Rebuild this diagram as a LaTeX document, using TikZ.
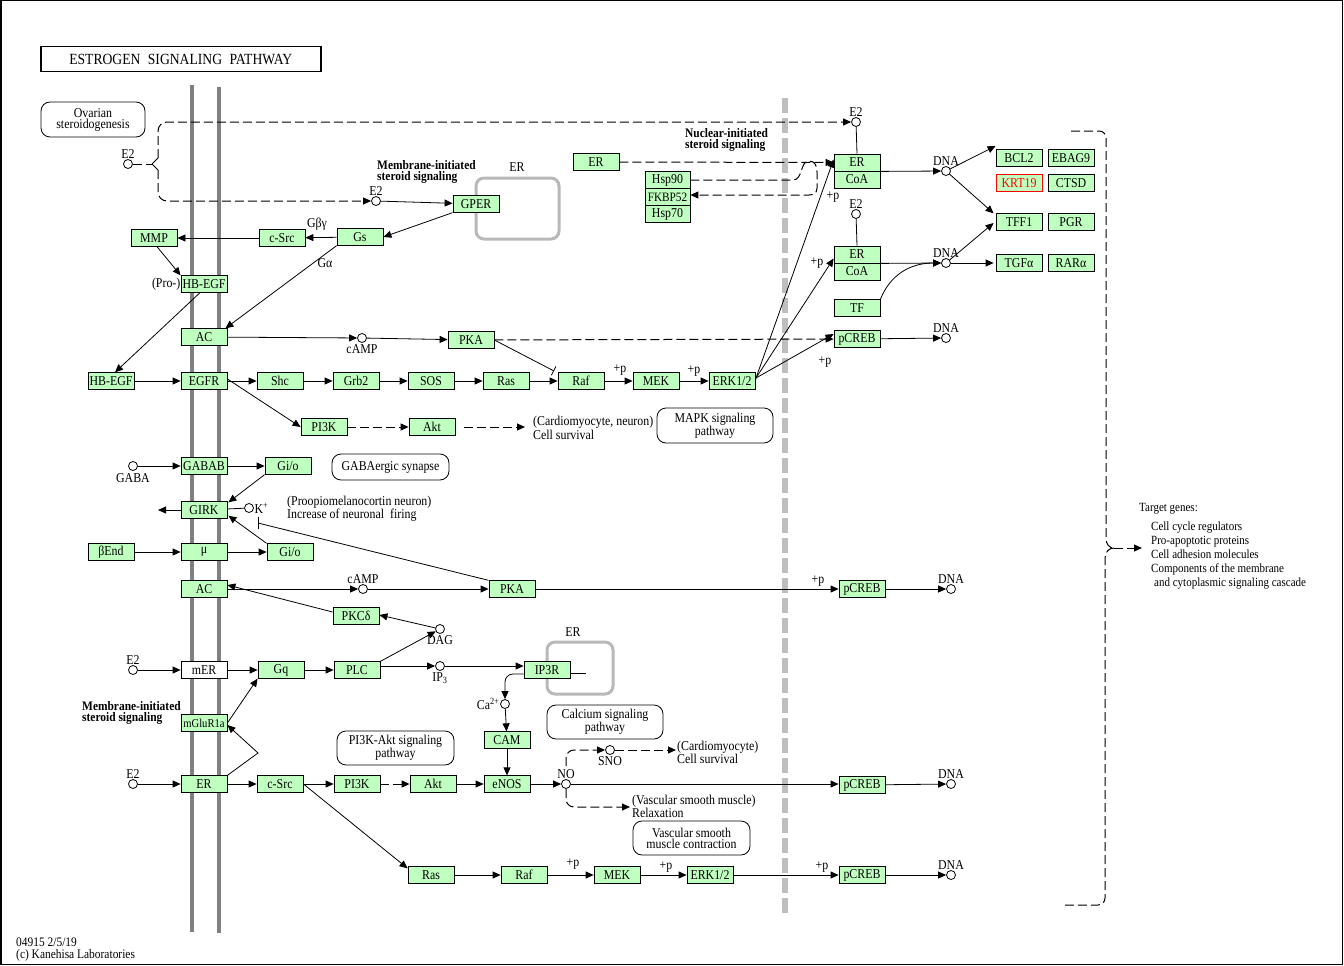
\documentclass[tikz,border=0pt]{standalone}
\usepackage{fontspec}
\usetikzlibrary{arrows.meta}
\newfontfamily\kf[FakeStretch=0.88]{Liberation Serif}
\newcommand\kfs{\kf\fontsize{13.5}{11}\selectfont}
\newcommand\kfsm{\kf\fontsize{12}{11}\selectfont}
\newcommand\kfb{\kf\bfseries\fontsize{13}{11}\selectfont}
\definecolor{kgreen}{RGB}{191,255,191}
\definecolor{memgray}{RGB}{128,128,128}
\definecolor{ergray}{RGB}{184,184,184}
\definecolor{nucgray}{RGB}{190,190,190}
\definecolor{kred}{RGB}{255,0,0}
\tikzset{
 gene/.style={draw, fill=kgreen, minimum width=46pt, minimum height=16.5pt, inner sep=0pt, line width=0.8pt, font=\kfs},
 cpd/.style={circle, draw, fill=white, minimum size=9pt, inner sep=0pt, line width=0.8pt},
 pmap/.style={draw, rounded corners=9pt, align=center, inner sep=0pt, line width=0.8pt, font=\kfs},
 txt/.style={inner sep=0pt, align=left, font=\kfs},
 btxt/.style={inner sep=0pt, align=left, font=\kfb},
 lbl/.style={inner sep=0.5pt, font=\kfs},
 arr/.style={line width=0.8pt, -{Triangle[length=8pt,width=7pt]}},
 ln/.style={line width=0.8pt},
 dsh/.style={dash pattern=on 9pt off 4pt, line width=1pt},
 erbox/.style={draw=ergray, line width=3pt, rounded corners=8pt},
}
\begin{document}
\begin{tikzpicture}[x=1pt,y=-1pt]
\useasboundingbox (0,0) rectangle (1344,966);
\draw[line width=1.5pt] (0.75,0.75) rectangle (1342.5,964.5);
% membranes
\draw[line width=4pt, memgray] (192,85) -- (192,932);
\draw[line width=4pt, memgray] (219,87) -- (219,933);
\draw[line width=6pt, nucgray, dash pattern=on 15pt off 5pt] (785,98) -- (785,915);
% ER compartments
\draw[erbox] (476,178) rectangle (559,239);
\node[lbl] (erl1) at (517,167) {ER};
\draw[erbox] (547,642) rectangle (613,694);
\node[lbl] (erl2) at (573,632) {ER};
% title
\node[draw, line width=1.5pt, minimum width=280pt, minimum height=25pt, inner sep=0pt, anchor=north west, font=\kf\fontsize{15.5}{16}\selectfont] (title) at (40,46) {ESTROGEN\hspace{4pt} SIGNALING\hspace{4pt} PATHWAY\hspace{10pt}};
% maps
\node[pmap, minimum width=104pt, minimum height=35pt] (ovar) at (93,119.5) {Ovarian\\steroidogenesis};
\node[pmap, minimum width=116pt, minimum height=35pt] (mapk) at (715,425.5) {MAPK signaling\\pathway};
\node[pmap, minimum width=117pt, minimum height=26pt] (gabaerg) at (390.5,467) {GABAergic synapse};
\node[pmap, minimum width=116pt, minimum height=34pt] (calc) at (605,722) {Calcium signaling\\pathway};
\node[pmap, minimum width=117pt, minimum height=34pt] (pi3kakt) at (395.5,748) {PI3K-Akt signaling\\pathway};
\node[pmap, minimum width=117pt, minimum height=34pt] (vsm) at (691.5,838) {Vascular smooth\\muscle contraction};
% bold texts
\node[btxt, anchor=west] (mis1) at (377,172) {Membrane-initiated\\steroid signaling};
\node[btxt, anchor=west] (nis) at (685,140) {Nuclear-initiated\\steroid signaling};
\node[btxt, anchor=west] (mis2) at (82,713) {Membrane-initiated\\steroid signaling};
% compounds
\node[cpd, label={[lbl]above:E2}] (e2a) at (128,164) {};
\node[cpd, label={[lbl]above:E2}] (e2b) at (376,201) {};
\node[cpd, label={[lbl]above:E2}] (e2n) at (856,122) {};
\node[cpd, label={[lbl]above:E2}] (e2m) at (856,214) {};
\node[cpd, label={[lbl,label distance=1pt]below:cAMP}] (camp1) at (362,338) {};
\node[cpd, label={[lbl,label distance=2pt]below:GABA}] (gaba) at (133,466) {};
\node[cpd, label={[lbl]right:K\textsuperscript{+}}] (kplus) at (249,508) {};
\node[cpd, label={[lbl]above:cAMP}] (camp2) at (363,589) {};
\node[cpd, label={[lbl,label distance=1pt]below:DAG}] (dag) at (440,629) {};
\node[cpd, label={[lbl]above:E2}] (e2c) at (133,670) {};
\node[cpd, label={[lbl,label distance=1pt]below:IP\textsubscript{3}}] (ip3) at (440,666) {};
\node[cpd, label={[lbl]left:Ca\textsuperscript{2+}}] (ca) at (505,704) {};
\node[cpd, label={[lbl]above:E2}] (e2d) at (133,784) {};
\node[cpd, label={[lbl]above:NO}] (no) at (566,784) {};
\node[cpd, label={[lbl,label distance=1pt]below:SNO}] (sno) at (610,750) {};
\node[cpd, label={[lbl]above:DNA}] (dnaa) at (946,171) {};
\node[cpd, label={[lbl]above:DNA}] (dnab) at (946,263) {};
\node[cpd, label={[lbl]above:DNA}] (dnac) at (946,338) {};
\node[cpd, label={[lbl]above:DNA}] (dna2) at (951,589) {};
\node[cpd, label={[lbl]above:DNA}] (dna3) at (951,784) {};
\node[cpd, label={[lbl]above:DNA}] (dna4) at (951,875) {};
% genes
\node[gene] (gper) at (476,204) {GPER};
\node[gene] (gs) at (360,237) {Gs};
\node[gene] (csrc1) at (282,238) {c-Src};
\node[gene] (mmp) at (154,238) {MMP};
\node[gene] (hbpro) at (204,284) {HB-EGF};
\node[lbl, anchor=east, inner sep=0pt] (prol) at (hbpro.west) {(Pro-)};
\node[gene] (ac1) at (204,337) {AC};
\node[gene] (pka1) at (471,340) {PKA};
\node[gene] (hb) at (111,381) {HB-EGF};
\node[gene] (egfr) at (204,381) {EGFR};
\node[gene] (shc) at (280,381) {Shc};
\node[gene] (grb2) at (356,381) {Grb2};
\node[gene] (sos) at (431,381) {SOS};
\node[gene] (ras1) at (506,381) {Ras};
\node[gene] (raf1) at (581,381) {Raf};
\node[gene] (mek1) at (656,381) {MEK};
\node[gene] (erk1) at (732,381) {ERK1/2};
\node[gene] (pi3k1) at (324,427) {PI3K};
\node[gene] (akt1) at (432,427) {Akt};
\node[gene] (gabab) at (204,466) {GABAB};
\node[gene] (gio1) at (288,466) {Gi/o};
\node[gene] (girk) at (204,510) {GIRK};
\node[gene] (bend) at (111,552) {βEnd};
\node[gene] (mu) at (204,552) {μ};
\node[gene] (gio2) at (290,552) {Gi/o};
\node[gene] (ac2) at (204,589) {AC};
\node[gene] (pka2) at (512,589) {PKA};
\node[gene] (pcreb2) at (862,589) {pCREB};
\node[gene] (pkcd) at (356,616) {PKCδ};
\node[gene, fill=white] (mer) at (204,670) {mER};
\node[gene] (gq) at (281,670) {Gq};
\node[gene] (plc) at (357,670) {PLC};
\node[gene] (ip3r) at (547,670) {IP3R};
\node[gene] (cam) at (507,740) {CAM};
\node[gene, font=\kfsm] (mglur) at (204,723) {mGluR1a};
\node[gene] (er2) at (204,784) {ER};
\node[gene] (csrc2) at (280,784) {c-Src};
\node[gene] (pi3k2) at (357,784) {PI3K};
\node[gene] (akt2) at (433,784) {Akt};
\node[gene] (enos) at (507,784) {eNOS};
\node[gene] (pcreb3) at (862,785) {pCREB};
\node[gene] (ras2) at (431,875) {Ras};
\node[gene] (raf2) at (524,875) {Raf};
\node[gene] (mek2) at (617,875) {MEK};
\node[gene] (erk2) at (710,875) {ERK1/2};
\node[gene] (pcreb4) at (862,875) {pCREB};
% nuclear side
\node[gene] (ern) at (596,162) {ER};
\node[gene, minimum width=45pt, minimum height=17pt] (hsp90) at (667.5,180) {Hsp90};
\node[gene, minimum width=45pt, minimum height=17pt, font=\kf\fontsize{12.8}{11}\selectfont] (fkbp) at (667.5,197) {FKBP52};
\node[gene, minimum width=45pt, minimum height=17pt] (hsp70) at (667.5,214) {Hsp70};
\node[gene, minimum height=17pt] (erc1) at (857,162.5) {ER};
\node[gene, minimum height=17pt] (coa1) at (857,179.5) {CoA};
\node[gene, minimum height=17pt] (erc2) at (857,254.5) {ER};
\node[gene, minimum height=17pt] (coa2) at (857,271.5) {CoA};
\node[gene] (tf) at (857,308) {TF};
\node[gene] (pcreb1) at (857,339) {pCREB};
\node[gene] (bcl2) at (1019,158) {BCL2};
\node[gene] (ebag9) at (1071,158) {EBAG9};
\node[gene, draw=kred, text=kred] (krt19) at (1019,183) {KRT19};
\node[gene] (ctsd) at (1071,183) {CTSD};
\node[gene] (tff1) at (1019,222) {TFF1};
\node[gene] (pgr) at (1071,222) {PGR};
\node[gene] (tgfa) at (1019,263) {TGFα};
\node[gene] (rara) at (1071,263) {RARα};
% plain labels
\node[lbl] (gby) at (317,224) {Gβγ};
\node[lbl] (ga) at (325,263) {Gα};
\node[lbl] (p1) at (620,370) {+p};
\node[lbl] (p2) at (694,371) {+p};
\node[lbl] (p3) at (833,197) {+p};
\node[lbl] (p4) at (817,263) {+p};
\node[lbl] (p5) at (825,362) {+p};
\node[lbl] (p6) at (818,581) {+p};
\node[lbl] (p7) at (573,864) {+p};
\node[lbl] (p8) at (666,867) {+p};
\node[lbl] (p9) at (822,867) {+p};
\node[txt, anchor=west] (cs1t) at (533,428) {(Cardiomyocyte, neuron)\\Cell survival};
\node[txt, anchor=west] (pomc) at (287,508.5) {(Proopiomelanocortin neuron)\\Increase of neuronal\ \ firing};
\node[txt, anchor=west] (cs2t) at (677,752.5) {(Cardiomyocyte)\\Cell survival};
\node[txt, anchor=west] (vsmt) at (632,806.5) {(Vascular smooth muscle)\\Relaxation};
\node[txt, anchor=west, font=\kf\fontsize{12.5}{11}\selectfont] (tgt) at (1139,509) {Target genes:};
\node[txt, anchor=west, font=\kf\fontsize{12.5}{14}\selectfont] (tgl) at (1151,556) {Cell cycle regulators\\Pro-apoptotic proteins\\Cell adhesion molecules\\Components of the membrane\\\hspace{3pt}and cytoplasmic signaling cascade};
\node[txt, anchor=west, font=\kf\fontsize{13}{12}\selectfont] (foot) at (16,950) {04915 2/5/19\\(c) Kanehisa Laboratories};
% coordinates
\coordinate (brl) at (152,164);
\coordinate (cs1) at (525,427);
\coordinate (akt1d) at (464,427);
\coordinate (gl) at (158,510);
\coordinate (teec) at (258,523);
\coordinate (rafbar) at (554,371);
\coordinate (ek) at (756,378);
\coordinate (ip3re) at (586,673);
\coordinate (mgb) at (258,753);
\coordinate (cs2) at (676,750);
\coordinate (vr) at (630,807);
\coordinate (nou) at (566,766);
\coordinate (tga) at (1142,548);
\coordinate (brm) at (1114,548);
% E2 dashed bracket
\draw[ln, dsh] (e2a) -- (brl);
\draw[ln] (brl) -- (158,158);
\draw[arr, dsh, rounded corners=9pt] (158,158) |- (e2n);
\draw[arr, dsh, rounded corners=9pt] (158,170) |- (e2b);
\draw[ln] (brl) -- (158,170);
% upper membrane pathway
\draw[arr] (e2b) -- (gper);
\draw[arr] (gper.south west) -- (gs.east);
\draw[arr] (gs) -- (csrc1);
\draw[arr] (csrc1) -- (mmp);
\draw[arr] (gs.south west) -- ([xshift=-2pt]ac1.north east);
\draw[arr] ([xshift=3pt]mmp.south) -- (hbpro.north west);
\draw[arr] ([xshift=-4pt]hbpro.south) -- ([xshift=4pt]hb.north);
\draw[arr] (ac1) -- (camp1);
\draw[arr] (camp1) -- (pka1);
\draw[ln, -{Bar[width=10pt]}] (pka1.east) -- (rafbar);
\draw[arr, dsh] (pka1) -- (pcreb1);
\draw[arr] (hb) -- (egfr);
\draw[arr] (egfr) -- (shc);
\draw[arr] (shc) -- (grb2);
\draw[arr] (grb2) -- (sos);
\draw[arr] (sos) -- (ras1);
\draw[arr] (ras1) -- (raf1);
\draw[arr] (raf1) -- (mek1);
\draw[arr] (mek1) -- (erk1);
\draw[arr] ([yshift=2pt]egfr.east) -- (pi3k1.west);
\draw[arr, dsh] (pi3k1) -- (akt1);
\draw[arr, dsh] (akt1d) -- (cs1);
\draw[ln] (erk1.east) -- (ek);
\draw[arr] (ek) -- ([yshift=3pt]erc1.west);
\draw[arr] (ek) -- ([yshift=-4pt]erc2.west);
\draw[arr] (ek) -- ([yshift=5pt]pcreb1.west);
% nuclear
\draw[arr, dsh] (ern) -- (erc1);
\draw[arr, dsh] (hsp90.east) -- (793,180) .. controls (803,180) and (800,161) .. (809,161) .. controls (815,161) and (817,166) .. (817,172) -- (817,188) .. controls (817,193) and (814,195) .. (809,195) -- ([yshift=2pt]fkbp.east);
\draw[ln] (e2n) -- (erc1.north);
\draw[ln] (e2m) -- (erc2.north);
\draw[arr] (erc1.south east) -- (dnaa);
\draw[arr] (erc2.south east) -- (dnab);
\draw[arr] (tf.north east) .. controls (890,275) and (910,263) .. (dnab);
\draw[arr] (dnaa) -- ([yshift=12pt]bcl2.west);
\draw[arr] (dnaa) -- ([xshift=-2pt]tff1.north west);
\draw[arr] (dnab) -- ([xshift=-2pt,yshift=-1pt]tff1.west);
\draw[arr] (dnab) -- ([xshift=-2pt]tgfa.west);
\draw[arr] (pcreb1) -- (dnac);
% brace
\draw[ln, dsh] (1071,131) -- (1099,131) .. controls (1103,131) and (1106,134) .. (1106,138) -- (1106,538) .. controls (1106,544) and (1109,548) .. (brm);
\draw[ln, dsh] (brm) .. controls (1109,548) and (1105,552) .. (1105,558) -- (1105,898) .. controls (1105,902) and (1102,905) .. (1098,905) -- (1065,905);
\draw[arr, dsh] (brm) -- (tga);
% GABA / GIRK
\draw[arr] (gaba) -- (gabab);
\draw[arr] (gabab) -- (gio1);
\draw[arr] (gio1.south west) -- ([xshift=1pt,yshift=-1pt]girk.north east);
\draw[arr] (girk) -- (gl);
\draw[ln] (girk) -- (kplus);
\draw[arr] (bend) -- (mu);
\draw[arr] (mu) -- (gio2);
\draw[arr] (gio2.north west) -- ([xshift=1pt,yshift=3pt]girk.south east);
\draw[ln] (pka2.north west) -- (teec);
\draw[ln] (258,517) -- (258,529);
% AC2 / PKA2
\draw[arr] (ac2) -- (camp2);
\draw[arr] (camp2) -- (pka2);
\draw[arr] (pka2) -- (pcreb2);
\draw[arr] (pcreb2) -- (dna2);
\draw[arr] ([yshift=4pt]pkcd.west) -- ([yshift=4pt]ac2.east);
\draw[arr] (plc.north east) -- (dag);
\draw[arr] (dag) -- ([yshift=1pt]pkcd.east);
% mER
\draw[arr] (e2c) -- (mer);
\draw[arr] (mer) -- (gq);
\draw[arr] (gq) -- (plc);
\draw[arr] (plc.east |- ip3) -- (ip3);
\draw[arr] (ip3) -- (ip3r.west |- ip3);
\draw[ln] (ip3r.east |- ip3re) -- (ip3re);
\draw[arr, rounded corners=8pt] ([yshift=-4pt]ip3r.west) -| (ca);
\draw[arr] (ca) -- (cam);
\draw[arr] (cam) -- (enos);
\draw[arr] (mglur.east) -- (gq.south west);
\draw[arr] (er2.north east) -- (mgb) -- ([yshift=-2pt]mglur.east);
% ER lower
\draw[arr] (e2d) -- (er2);
\draw[arr] (er2) -- (csrc2);
\draw[arr] (csrc2) -- (pi3k2);
\draw[arr, dsh] (pi3k2) -- (akt2);
\draw[arr] (akt2) -- (enos);
\draw[arr] (enos) -- (no);
\draw[arr] (csrc2.east) -- ([yshift=-2pt]ras2.north west);
\draw[arr, dsh, rounded corners=8pt] (nou) |- (sno);
\draw[arr, dsh] (sno) -- (cs2);
\draw[arr, dsh, rounded corners=8pt] (no.south) |- (vr);
\draw[arr] (no) -- (pcreb3.west |- no);
\draw[arr] (pcreb3) -- (dna3);
\draw[arr] (ras2) -- (raf2);
\draw[arr] (raf2) -- (mek2);
\draw[arr] (mek2) -- (erk2);
\draw[arr] (erk2) -- (pcreb4);
\draw[arr] (pcreb4) -- (dna4);
\end{tikzpicture}
\end{document}
